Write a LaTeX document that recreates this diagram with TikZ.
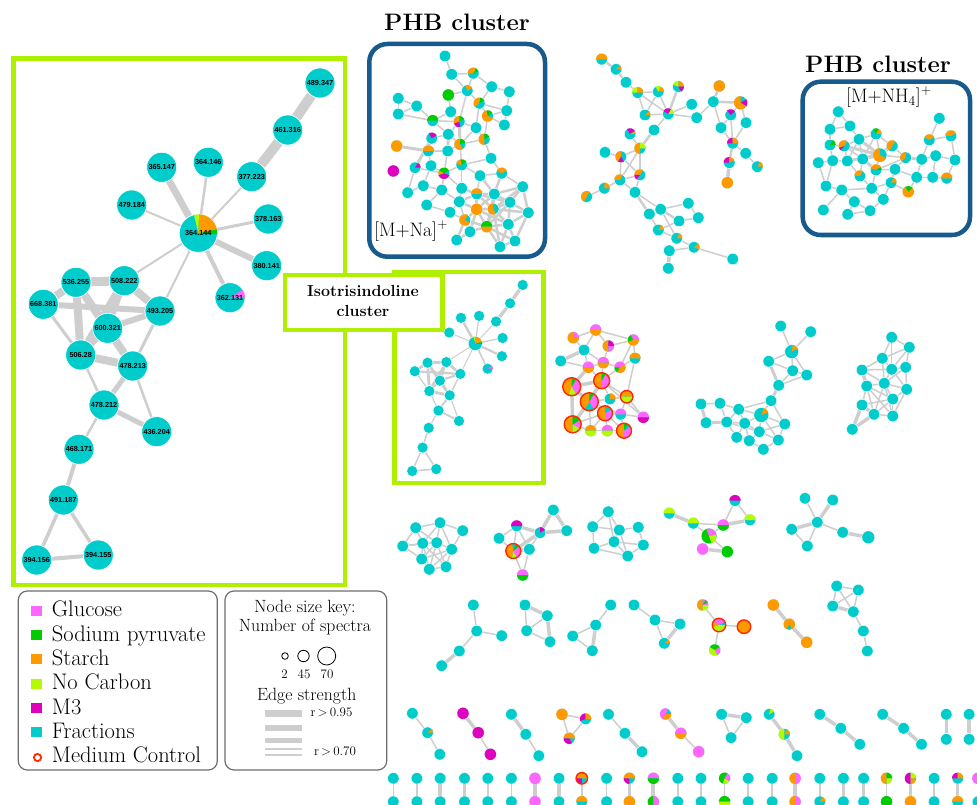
\documentclass[tikz,border=0pt]{standalone}
\usepackage{fontspec}
\newfontfamily\labfont{Liberation Sans}
\pgfdeclarelayer{paper}
\pgfdeclarelayer{bg}
\pgfsetlayers{paper,bg,main}
\definecolor{tl}{RGB}{0,204,204}
\definecolor{orng}{RGB}{255,153,0}
\definecolor{pnk}{RGB}{255,102,255}
\definecolor{grn}{RGB}{0,204,0}
\definecolor{lme}{RGB}{180,250,0}
\definecolor{mgt}{RGB}{224,0,192}
\definecolor{rr}{RGB}{255,40,0}
\definecolor{eg}{RGB}{206,206,206}
\definecolor{boxlime}{RGB}{175,240,0}
\definecolor{phbblue}{RGB}{25,90,140}
\definecolor{leggray}{RGB}{110,110,110}
\tikzset{
  sn/.style={circle,fill=tl,draw=white,line width=0.4pt,minimum size=11.5pt,inner sep=0pt},
  bn/.style={circle,fill=tl,draw=white,line width=0.6pt,minimum size=30pt,inner sep=0pt,font=\labfont\bfseries\fontsize{7.3}{8}\selectfont},
  bc/.style={bn,minimum size=38pt},
  tn/.style={circle,fill=tl,draw=white,line width=0.4pt,minimum size=11pt,inner sep=0pt},
  tc/.style={tn,minimum size=14pt},
  edge/.style={draw=eg,line width=1.5pt},
  labtxt/.style={inner sep=0pt,font=\labfont\bfseries\fontsize{7.3}{8}\selectfont},
  legtxt/.style={anchor=base west,inner sep=0pt,font=\fontsize{22.5}{24}\selectfont},
  keytxt/.style={anchor=base,inner sep=0pt,font=\fontsize{17.7}{19}\selectfont},
  smalltxt/.style={anchor=base,inner sep=0pt,font=\fontsize{13}{15}\selectfont},
  titletxt/.style={anchor=base,inner sep=0pt,font=\bfseries\fontsize{23.8}{26}\selectfont},
  ionbox/.style={anchor=base west,inner sep=0pt,font=\fontsize{19.5}{22}\selectfont},
  limebox/.style={draw=boxlime,line width=4.5pt},
  phbbox/.style={draw=phbblue,line width=4.5pt,rounded corners=18pt},
  legbox/.style={draw=leggray,line width=1.2pt,rounded corners=9pt},
  keybar/.style={draw=eg},
}
\newcommand\lab[1]{#1}
\def\ewf{1}\def\ewo{0}
\newcommand\pw[5][5.75pt]{\fill[#5] (#2.center) -- ++(#3:#1) arc[start angle=#3,end angle=#4,radius=#1] -- cycle;}
\newcommand\fc[3][5.75pt]{\fill[#3] (#2.center) circle[radius=#1];}
\newcommand\rg[2]{\draw[rr,line width=1.4pt] (#1.center) circle[radius=#2];}
\newcommand\EL[2]{\foreach \a/\b in {#2}{\draw[edge,line width=#1] (\a) -- (\b);}}
\newcommand\isonet[3]{%
  \foreach \n/\x/\y/\tx in {n489/320/83/489.347, n461/287.7/130/461.316, n377/251.7/176.7/377.223,
     n364b/208.3/162.3/364.146, n365/161.7/167.3/365.147, n479/131.7/205/479.184,
     n378/268.3/219/378.163, n380/266.7/265.7/380.141, n508/124.3/280.7/508.222,
     n536/76/282.3/536.255, n668/43.3/304.3/668.381, n493/160/311/493.205,
     n600/107.7/328.3/600.321, n506/80.7/355/506.28, n478b/132.7/366/478.213,
     n478a/104/405/478.212, n436/156.7/431.7/436.204, n468/79/449.3/468.171,
     n491/63.3/500/491.187, n394a/36.7/560/394.156, n394b/98.3/555/394.155}
    {\node[#2] (#1\n) at (\x,\y) {\lab{\tx}};}
  \node[#2] (#1n362) at (230,297.7) {};
  \node[#3] (#1c) at (198.3,233.3) {};
  \begin{pgfonlayer}{bg}
  \foreach \a/\b/\w in {n489/n461/10, n461/n377/10, n377/c/2, n364b/c/2.5, n365/c/7,
     n479/c/2, n378/c/3, n380/c/6, n362/c/4, n508/c/2, n493/c/2,
     n536/n508/9, n668/n536/8, n536/n506/8, n536/n478b/8, n536/n600/6, n508/n506/8,
     n508/n493/8, n508/n600/6, n668/n493/6, n668/n506/3, n600/n493/6, n600/n478b/6,
     n600/n506/5, n506/n478b/8, n493/n478b/3, n506/n478a/2.5, n478b/n478a/5,
     n478b/n436/2.5, n478a/n436/5, n478a/n468/2.5, n468/n491/4, n491/n394a/3.5,
     n491/n394b/3.5, n394a/n394b/4}
    {\draw[edge,line width={\ewf*\w+\ewo}] (#1\a) -- (#1\b);}
  \end{pgfonlayer}}
\begin{document}
\begin{tikzpicture}[x=1pt,y=-1pt]
\useasboundingbox (0,0) rectangle (977,805);
\begin{pgfonlayer}{paper}\fill[white] (0,0) rectangle (977,805);\end{pgfonlayer}

% ---------- frames ----------
\draw[limebox] (13.5,58.5) rectangle (345,585);
\draw[limebox] (394.3,272) rectangle (543.3,483);
\draw[limebox,fill=white] (285,275) rectangle (442.7,330);
\draw[phbbox] (369.3,44) rectangle (545,256.7);
\draw[phbbox] (802.7,81.7) rectangle (970,235);
\draw[legbox] (18.3,591) rectangle (217.3,770);
\draw[legbox] (225,591) rectangle (386.7,770);

% ---------- titles ----------
\node[titletxt] (t1) at (457,31) {PHB cluster};
\node[titletxt] (t2) at (878,73) {PHB cluster};
\node[ionbox] (ion1) at (374,236.5) {[M+Na]\textsuperscript{+}};
\node[ionbox] (ion2) at (846,102.5) {[M+NH\textsubscript{4}]\textsuperscript{+}};
\node[anchor=base,inner sep=0pt,font=\bfseries\fontsize{16}{20}\selectfont] (iso1) at (363,296.7) {Isotrisindoline};
\node[anchor=base,inner sep=0pt,font=\bfseries\fontsize{16}{20}\selectfont] (iso2) at (363,316.7) {cluster};

% ---------- legend ----------
\foreach \yy/\cc/\tx [count=\i] in {616.7/pnk/Glucose, 641/grn/Sodium pyruvate, 665.3/orng/Starch, 689.7/lme/No Carbon, 714/mgt/M3, 738.3/tl/Fractions}
  {\fill[\cc] (31.2,\yy-11) rectangle (42.2,\yy-1);
   \node[legtxt] (leg\i) at (51.7,\yy) {\tx};}
\draw[rr,line width=1.8pt] (37.5,757.5) circle[radius=3.6pt];
\node[legtxt] (leg7) at (51.7,762.6) {Medium Control};
\node[keytxt] (k1) at (305,612.3) {Node size key:};
\node[keytxt] (k2) at (305,631) {Number of spectra};
\draw[line width=0.8pt] (285,656) circle[radius=3.3pt];
\draw[line width=0.8pt] (303.5,656) circle[radius=5.7pt];
\draw[line width=0.8pt] (326.7,656) circle[radius=9pt];
\node[smalltxt] (s2) at (284.5,678.3) {2};
\node[smalltxt] (s45) at (304,678.3) {45};
\node[smalltxt] (s70) at (327,678.3) {70};
\node[keytxt] (k3) at (306.7,700) {Edge strength};
\draw[keybar,line width=7pt] (265,713.3) -- (302,713.3);
\draw[keybar,line width=6pt] (265,727.7) -- (302,727.7);
\draw[keybar,line width=5pt] (265,740) -- (302,740);
\draw[keybar,line width=2pt] (265,748.5) -- (302,748.5);
\draw[keybar,line width=1.2pt] (265,755) -- (302,755);
\node[smalltxt] (r95) at (331.5,716.7) {r\,>\,0.95};
\node[smalltxt] (r70) at (335,755) {r\,>\,0.70};

% ---------- isotrisindoline networks ----------
\isonet{B}{bn}{bc}
\pw[19pt]{Bc}{12}{88}{orng}\pw[19pt]{Bc}{-3}{12}{grn}\pw[19pt]{Bc}{88}{103}{lme}
\pw[15pt]{Bn362}{0}{32}{pnk}
\node[labtxt] (lc) at (Bc) {364.144};
\node[labtxt] (l362) at (Bn362) {362.131};
\begin{scope}[shift={(397.9,252.6)},scale=0.39]
  \renewcommand\lab[1]{}\def\ewf{0.3}\def\ewo{0.4}
  \isonet{S}{tn}{tc}
\end{scope}
\pw[7pt]{Sc}{12}{88}{orng}\pw[7pt]{Sc}{-3}{12}{grn}\pw[7pt]{Sc}{88}{103}{lme}
\pw[5.5pt]{Sn362}{0}{32}{pnk}

% ---------- small nodes ----------
\foreach \n/\x/\y in {
 P1/445/56, P2/451.7/74.3, P3/473.3/73.3, P4/491.7/86.7, P5/509.3/91.7, P6/467.3/90.7, P7/448.3/95,
 P8/398.3/98.3, P9/416.7/106, P10/398.3/114, P11/479.3/103.3, P12/506.7/110.7, P13/450.7/111.7,
 P14/487.7/116, P15/432.7/120.7, P16/459.3/121.7, P17/504.3/125, P18/476/127.7, P19/448.3/134.3,
 P20/431.7/138.3, P21/396.7/146, P22/460/144.3, P23/484.3/139.3, P24/428.3/151, P25/447.7/151,
 P26/491/158.3, P27/461.7/165, P28/431/165.7, P29/415/167.7, P30/393.3/171, P31/444/173.3,
 P32/480/175.7, P33/501.7/173.3, P34/423.3/185.7, P35/407.7/192.7, P36/441.7/190, P37/461.7/188.3,
 P38/522.7/186.7, P39/476.7/194, P40/494.3/194, P41/510/202.3, P42/459.3/201.7, P43/426.7/205,
 P44/476.7/209.3, P45/493.3/209, P46/528.3/212.7, P47/450/212.3, P48/465/220, P49/486.7/226.7,
 P50/508.3/224.3, P52/470/231.7, P53/456.7/240, P54/515/241, P55/500/246.7,
 a1/601.7/59.3, a2/616/69.3, a3/626/82.3, a4/637.7/92.7, a5/658.3/91.7, a6/678.3/86.7, a7/645/115,
 a8/668.3/114, a9/691.7/104.3, a10/696.7/117.7, a11/654/130, a12/630/134, a13/605/152.3,
 a14/640/148.3, a15/621/156.7, a16/640/175, a17/620/180, a18/604.3/188.3, a19/586.7/196.7,
 a20/635/192.3, a21/649.3/214, a22/660.7/209.3, a23/688.3/203.3, a24/698.3/217.7, a25/679/221,
 a26/658.3/230, a27/676.7/238.3, a28/694/247.3, a29/669.3/250.7, a30/668.3/268.3, a31/732.7/259,
 b1/719.3/86, b2/713.3/101.7, b4/730.7/115, b5/746/122.7, b6/721/127.7, b7/732.7/143.3,
 b8/745.7/153.3, b9/729.3/162.7, b10/757.3/166.7, b11/727.3/182.7,
 c1/838.3/111.7, c2/850/126, c3/830/129.3, c4/830/145, c5/844.3/146, c6/859/139.3, c7/876/134,
 c9/892.3/146, c10/905.7/157.7, c11/921.7/159.3, c12/929.3/140, c13/939.3/118.3, c14/951/136,
 c15/935.7/155.7, c16/955/160, c17/818.3/162.7, c18/832.7/160.7, c19/847.3/161, c20/862.7/159,
 c21/876/170, c22/860/176, c23/895/169.3, c24/916.7/177.3, c25/932.7/177.3, c26/946.7/178.3,
 c27/826/186, c28/841.7/190, c29/871.7/188.3, c30/891/182.7, c31/908.3/191.7, c32/854.3/201.7,
 c33/883.3/199.3, c34/823.3/210, c35/847.7/214.3, c36/870/210.7,
 d1/573.3/337.7, d2/595.7/330, d3/608.3/346, d4/633.3/340, d5/584/350, d6/560.7/361,
 d7/588.3/367.3, d8/603.3/362.7, d9/620/367.3, d10/635/358.3, d14/610/399, d17/620.7/414.3,
 d18/643.3/417.3, d20/590.7/430.7, d21/607.3/430.7,
 e1/780.7/326, e2/810.7/331.7, e4/768.7/361.3, e5/792.7/370.7, e6/806.7/375, e7/778.7/385.3,
 e8/771/400.7, e9/701/404, e10/720/403.3, e11/738.7/409.3, e13/706/422.7, e14/726.7/422,
 e15/744.7/423.3, e16/784.7/424, e17/759.3/431.7, e18/736.7/437.3, e19/749.3/440.7,
 e20/778.3/440, e21/763.3/449.3,
 f1/891.7/337.3, f2/909.3/347.3, f3/882.3/358.3, f4/862/370, f5/891.7/369.3, f6/905.7/367.3,
 f7/866.7/386, f8/884.3/383.3, f9/906.7/389.3, f10/862/405, f11/892.7/399, f12/874/414.3,
 f13/892.7/416, f14/852.3/429.3,
 g1/415.7/527.7, g2/440/522.7, g3/462.7/530.7, g4/402.7/546, g5/422.7/543.3, g6/436.7/542.7,
 g7/451.7/549.3, g8/421.7/559, g9/446/566.7, g10/429.3/569.3,
 h1/516.7/526, h2/499/538.3, h3/540/532.7, h4/553.3/510, h5/566.7/530.7, h7/529.3/549.3,
 h8/522.7/575,
 i1/608.3/511.7, i2/592.7/526.7, i3/619.3/530, i4/638.3/527.3, i5/614/541.7, i6/643.3/545,
 i7/594/548.3, i8/627.7/556,
 j1/669.3/513.3, j2/693.3/523.3, j3/735/500.7, j4/750/520, j5/723.3/525, j8/702.7/549,
 j9/727.3/551.7,
 k1/805/498.3, k2/832.7/500, k3/817.3/522.3, k4/791.7/529.3, k5/842.7/532.3, k7/807.3/546,
 l1/473.3/605, l2/476.7/631, l3/501.7/635.7, l4/459.3/651, l5/441.7/665.7,
 m1/525/605, m2/547.3/615.7, m3/526.7/630.7, m4/550/641.7,
 n1/610.7/605, n2/595.7/625, n3/572.7/636, n4/592.3/650.7,
 o1/634/605, o2/655/620, o3/680/624, o4/664.3/643.3,
 p1/702.7/605, p4/714.7/650,
 q1/773.3/605, q2/789.3/624.3, q3/806.7/642.3,
 r1/836.7/586, r2/858.3/590, r3/832.7/606, r4/853.3/611.7, r5/863.3/631, r6/867.3/651,
 sa1/412.4/713.3, sa2/427.6/732.7, sa3/439.8/754.3, sb1/463/713.3, sb2/478.2/732.7, sb3/490.4/754.3,
 sc1/511.4/714.3, sc2/525.8/734.3, sc3/538.8/755.7, sd1/562/714.3, sd2/585.6/719, sd3/569.3/738.3,
 se1/608.5/714.3, se2/624.9/733.3, se3/642/751.7, sf1/665.6/714, sf2/680.8/733.3, sf3/698.7/751.7,
 sg1/721.6/714.3, sg2/746.3/717.7, sg3/731.1/737.7, sh1/769.2/714.3, sh2/784.4/734.3, sh3/797/755.7,
 si1/819.8/714.3, si2/840.8/728.3, si3/859.8/744.3, sj1/882.7/714.3, sj2/903.6/728.3, sj3/921.5/744.3,
 sk1/946.3/714.3, sk2/946.3/739.3, sl1/969.1/714.3, sl2/969.1/739.3}
 {\node[sn] (\n) at (\x,\y) {};}
% larger nodes
\foreach \n/\x/\y/\s in {b3/740.7/102.7/13.5, c8/880/155/14, d11/571.7/386.7/18, d12/601.7/380.7/16,
 d13/589.3/401.7/18, d15/626.7/396.7/12.5, d16/605/413.3/15, d19/572.7/424.3/17, d22/624/430.7/15,
 e3/791.7/351.7/14, e12/761.3/415/15, h6/513.3/551/15, j7/709/536/15, p2/719/625/13.5,
 p3/744/626.7/13.5, k6/868.3/537.3/13}
 {\node[sn,minimum size=\s pt] (\n) at (\x,\y) {};}
% bottom row
\foreach \x/\w [count=\i] in {393.3/1.5, 416.9/2.5, 440.2/3.5, 464.5/2.5, 487.8/2.5, 511.4/1.5, 535/3.5,
 559/3.5, 581.8/1.5, 606.6/1, 629.4/3.5, 653.4/4, 677.8/2.5, 701/2.5, 724.6/1.5, 748.2/1.5, 772.2/1.5,
 795.1/3.5, 819.8/1.5, 843.4/2.5, 863.6/3.5, 886.5/1.5, 910.5/3.5, 934.1/1.5, 957.7/3.5, 977.9/2}
 {\node[sn] (T\i) at (\x,778.3) {};
  \node[sn] (U\i) at (\x,801.7) {};
  \begin{pgfonlayer}{bg}\draw[edge,line width=\w] (T\i) -- (U\i);\end{pgfonlayer}}

% ---------- edges ----------
\begin{pgfonlayer}{bg}
\EL{1.5}{P1/P2, P2/P3, P3/P4, P2/P6, P3/P6, P4/P11, P6/P11, P5/P12, P11/P12, P11/P14, P12/P14,
 P12/P17, P14/P17, P13/P16, P6/P16, P7/P13, P8/P9, P8/P10, P9/P10, P9/P15, P10/P15, P13/P15,
 P15/P16, P15/P19, P16/P19, P16/P18, P11/P18, P18/P23, P14/P23, P16/P22, P19/P22, P19/P20,
 P20/P24, P24/P25, P22/P25, P22/P23, P22/P27, P18/P22, P23/P26, P26/P27, P27/P31, P25/P31,
 P28/P31, P29/P31, P29/P35, P24/P28, P28/P34, P34/P35, P34/P36, P31/P36, P27/P32, P32/P33,
 P27/P37, P31/P37, P37/P42, P36/P43, P43/P47, P42/P47, P26/P33, P33/P38, P32/P39, P36/P42,
 P47/P48, P42/P48, P4/P5, P7/P6}
\EL{3}{P21/P24, P19/P25, P16/P22, P20/P29}
\EL{2.5}{P32/P40, P33/P40, P38/P40, P38/P41, P38/P46, P39/P40, P39/P44, P39/P45, P40/P41,
 P40/P45, P40/P44, P41/P46, P41/P45, P41/P50, P44/P45, P44/P49, P44/P48, P45/P49, P45/P50,
 P45/P46, P46/P50, P49/P50, P49/P52, P49/P55, P50/P54, P50/P55, P52/P53, P52/P48, P54/P55,
 P48/P49, P42/P44, P42/P39, P37/P39, P39/P41, P44/P50, P40/P49, P41/P49, P46/P54, P44/P52,
 P48/P53, P49/P54, P45/P55, P38/P45}
\EL{1.5}{a3/a4, a4/a5, a4/a7, a5/a7, a5/a8, a7/a8, a8/a9, a8/a10, a8/a11, a10/b2, b2/b6, b3/b4,
 b3/b5, b4/b6, b5/b7, b6/b7, b7/b8, b8/b10, b4/b7, a12/a14, a13/a15, a14/a15, a14/a16, a15/a17,
 a16/a17, a15/a16, a14/a17, a17/a18, a18/a19, a16/a20, a17/a20, a20/a22, a21/a22, a22/a23,
 a23/a24, a24/a25, a25/a26, a21/a26, a26/a27, a22/a27, a27/a28, a28/a29, a28/a31, a4/a8}
\EL{2.5}{a1/a2, a2/a3, a6/a8, a11/a14, b2/b1, b2/b3, b7/b9, a20/a21, a22/a25}
\EL{3.5}{b9/b11, a29/a30}
\EL{1.5}{c1/c2, c1/c3, c2/c3, c2/c6, c3/c4, c4/c5, c5/c6, c6/c7, c7/c8, c7/c9, c5/c19, c8/c10,
 c9/c10, c11/c12, c12/c13, c12/c14, c11/c15, c15/c16, c14/c16, c15/c25, c16/c26, c25/c26, c24/c25,
 c11/c24, c10/c23, c8/c21, c19/c20, c18/c19, c17/c18, c17/c27, c18/c27, c19/c22, c20/c22,
 c21/c23, c22/c29, c21/c29, c23/c30, c30/c31, c23/c24, c24/c31, c29/c30, c29/c33, c30/c33,
 c27/c28, c28/c32, c28/c29, c32/c36, c32/c35, c34/c28, c35/c36, c36/c33, c10/c21, c9/c20,
 c5/c20, c7/c20, c6/c19, c6/c20, c4/c18}
\EL{3}{c6/c8, c5/c8, c8/c20, c8/c19, c8/c9, c20/c21, c10/c11}
\EL{1.5}{d1/d2, d2/d3, d1/d5, d2/d5, d3/d4, d2/d4, d6/d7, d5/d7, d5/d8, d3/d8, d7/d8, d8/d9,
 d4/d9, d4/d10, d9/d10, d7/d12, d8/d12, d9/d12, d12/d14, d12/d15, d14/d15, d15/d17, d15/d18,
 d10/d15, d13/d16, d16/d19, d16/d20, d16/d21, d16/d22, d19/d20, d20/d21, d21/d22, d17/d22,
 d17/d18, d13/d17, d14/d16, d16/d17, d13/d20, d11/d16, d12/d18, d13/d14}
\EL{3.5}{d5/d6, d7/d11, d11/d12, d11/d13, d12/d13, d11/d19, d13/d19}
\EL{1.5}{e1/e3, e2/e3, e3/e4, e3/e5, e3/e6, e4/e5, e4/e7, e5/e6, e5/e7, e6/e7, e8/e12, e8/e11,
 e9/e10, e9/e13, e10/e11, e10/e14, e11/e12, e11/e14, e11/e15, e12/e15, e12/e16, e12/e17, e14/e15,
 e14/e18, e15/e18, e15/e17, e16/e17, e16/e20, e17/e19, e17/e20, e18/e19, e19/e21, e20/e21,
 e12/e20, e8/e16, e15/e19, e14/e17}
\EL{3}{e7/e8, e9/e13, e13/e14, e4/e7}
\EL{1.5}{f1/f2, f1/f3, f2/f3, f2/f5, f2/f6, f1/f5, f3/f4, f3/f5, f3/f8, f4/f7, f4/f8, f4/f5,
 f5/f6, f5/f8, f6/f9, f5/f9, f6/f8, f7/f8, f7/f11, f8/f11, f8/f9, f9/f11, f9/f13, f10/f11,
 f11/f12, f11/f13, f12/f13, f7/f12, f8/f12, f8/f13, f7/f13, f7/f10}
\EL{3.5}{f10/f14, f12/f14, f4/f7, f10/f12}
\EL{1.5}{g1/g2, g2/g3, g1/g4, g1/g5, g1/g6, g2/g5, g2/g6, g2/g7, g3/g7, g4/g5, g4/g8, g5/g6,
 g5/g8, g6/g7, g6/g8, g6/g9, g6/g10, g7/g9, g7/g10, g8/g10, g9/g10, g5/g9, g5/g10, g7/g8, g4/g6}
\EL{1.5}{h1/h2, h1/h6, h1/h7, h2/h6, h3/h7, h6/h8, h7/h8, i1/i2, i1/i3, i2/i3, i2/i7, i3/i4,
 i3/i5, i4/i6, i5/i6, i5/i7, i5/i8, i6/i8, i7/i8, i3/i8, i1/i5}
\EL{3.5}{h1/h3, h3/h4, h4/h5, h3/h5, h6/h7, h6/h3}
\EL{1.5}{j2/j5, j3/j5, j5/j7, j7/j8, j7/j9, j3/j4, j2/j7, k1/k3, k3/k5, k4/k7, k3/k7}
\EL{3.5}{j1/j2, j4/j5, j8/j9, k2/k3, k3/k4, k5/k6}
\EL{1.5}{l1/l2, l2/l3, l2/l4, m1/m3, m2/m3, m3/m4, n1/n2, n2/n3, n3/n4, o1/o2, o2/o3, o2/o4,
 p1/p2, p2/p3, p2/p4, r1/r2, r1/r3, r1/r4, r2/r3, r2/r4, r4/r5, r5/r6}
\EL{3.5}{l4/l5, m1/m2, m2/m4, n2/n4, o3/o4, q1/q2, q2/q3, r3/r4}
\EL{1.5}{sa1/sa2, sa2/sa3, sb2/sb3, sc2/sc3, sd1/sd2, sd1/sd3, sd2/sd3, se1/se2, se2/se3, sf2/sf3,
 sg1/sg3, sg2/sg3}
\EL{3.5}{sb1/sb2, sc1/sc2, sf1/sf2, sg1/sg2, sh1/sh2, sh2/sh3, si1/si2, si2/si3, sj1/sj2, sj2/sj3,
 sk1/sk2, sl1/sl2, se2/se3}
\end{pgfonlayer}

% ---------- pie colours ----------
\pw{P3}{60}{180}{orng}\pw{P3}{20}{60}{grn}
\pw{P6}{30}{110}{orng}
\fc{P7}{grn}
\pw{P11}{80}{220}{orng}\pw{P11}{30}{80}{grn}
\pw{P14}{100}{340}{orng}\pw{P14}{40}{100}{grn}
\pw{P15}{0}{180}{grn}
\pw{P16}{90}{200}{orng}\pw{P16}{200}{280}{mgt}\pw{P16}{30}{90}{grn}
\pw{P20}{30}{120}{mgt}
\fc{P21}{orng}
\pw{P22}{90}{300}{orng}\pw{P22}{20}{90}{grn}
\pw{P23}{90}{270}{orng}\pw{P23}{30}{90}{grn}
\pw{P24}{0}{180}{orng}
\pw{P27}{100}{170}{orng}\pw{P27}{40}{100}{grn}
\pw{P29}{0}{60}{mgt}
\fc{P30}{mgt}
\pw{P31}{30}{150}{grn}\pw{P31}{150}{200}{orng}\pw{P31}{200}{340}{mgt}
\pw{P33}{30}{150}{orng}
\pw{P39}{0}{180}{orng}
\fc{P44}{orng}
\pw{P45}{90}{300}{orng}
\pw{P48}{60}{330}{orng}
\pw{P49}{0}{180}{grn}\pw{P49}{180}{360}{orng}
\pw{a1}{0}{180}{orng}
\pw{a2}{0}{40}{orng}
\pw{a4}{90}{180}{lme}\pw{a4}{0}{90}{orng}
\pw{a5}{60}{120}{lme}\pw{a5}{0}{60}{orng}
\pw{a6}{0}{90}{orng}\pw{a6}{90}{160}{lme}\pw{a6}{300}{360}{mgt}
\pw{a7}{0}{40}{orng}
\pw{a8}{60}{150}{mgt}\pw{a8}{0}{60}{lme}
\pw{a12}{30}{120}{mgt}\pw{a12}{0}{30}{orng}
\pw{a14}{90}{270}{orng}\pw{a14}{0}{90}{lme}
\pw{a15}{90}{240}{orng}\pw{a15}{240}{300}{mgt}
\pw{a16}{60}{180}{orng}\pw{a16}{180}{230}{mgt}
\pw{a17}{60}{180}{orng}
\pw{a18}{0}{90}{orng}
\pw{a19}{60}{240}{orng}
\pw{a26}{0}{60}{orng}
\pw{a27}{0}{60}{orng}
\pw{a28}{-20}{40}{orng}
\fc{b1}{orng}
\pw[6.75pt]{b3}{90}{330}{orng}\pw[6.75pt]{b3}{-30}{30}{mgt}
\pw{b4}{40}{130}{mgt}
\pw{b7}{90}{180}{mgt}\pw{b7}{0}{90}{orng}
\pw{b9}{90}{180}{mgt}\pw{b9}{30}{90}{orng}
\pw{b10}{0}{60}{orng}
\fc{b11}{orng}
\pw{c4}{0}{60}{grn}
\pw{c5}{60}{200}{orng}\pw{c5}{200}{230}{mgt}
\pw{c7}{60}{120}{grn}\pw{c7}{0}{60}{orng}
\pw[7pt]{c8}{90}{330}{orng}
\pw{c9}{60}{240}{orng}
\pw{c10}{90}{220}{orng}
\pw{c12}{30}{150}{orng}
\pw{c14}{30}{180}{orng}
\pw{c21}{30}{160}{orng}\pw{c21}{0}{30}{grn}
\pw{c22}{60}{180}{orng}
\pw{c26}{0}{180}{orng}
\pw{c30}{0}{60}{orng}
\pw{c31}{120}{400}{orng}\pw{c31}{40}{120}{grn}
\pw{d1}{90}{360}{orng}\pw{d1}{0}{90}{pnk}
\pw{d2}{0}{180}{pnk}\pw{d2}{180}{360}{orng}
\pw{d3}{90}{270}{orng}\pw{d3}{270}{360}{pnk}\pw{d3}{0}{90}{mgt}
\pw{d4}{0}{120}{pnk}\pw{d4}{120}{200}{grn}\pw{d4}{200}{360}{orng}
\pw{d7}{0}{180}{pnk}\pw{d7}{180}{360}{orng}
\pw{d8}{0}{180}{pnk}\pw{d8}{180}{360}{orng}
\pw{d9}{30}{180}{pnk}\pw{d9}{180}{240}{grn}\pw{d9}{240}{390}{orng}
\pw{d10}{0}{180}{orng}
\pw[9pt]{d11}{-60}{60}{pnk}\pw[9pt]{d11}{60}{90}{grn}\pw[9pt]{d11}{90}{250}{orng}\pw[9pt]{d11}{250}{300}{lme}
\pw[8pt]{d12}{90}{270}{orng}\pw[8pt]{d12}{270}{420}{pnk}\pw[8pt]{d12}{60}{90}{grn}
\pw[9pt]{d13}{90}{240}{orng}\pw[9pt]{d13}{300}{420}{pnk}\pw[9pt]{d13}{60}{90}{grn}
\pw{d14}{0}{90}{orng}
\pw[6.25pt]{d15}{0}{180}{orng}\pw[6.25pt]{d15}{180}{360}{lme}
\pw[7.5pt]{d16}{90}{270}{orng}\pw[7.5pt]{d16}{270}{390}{pnk}
\pw{d17}{0}{180}{pnk}
\pw{d18}{0}{180}{pnk}\pw{d18}{180}{360}{mgt}
\pw[8.5pt]{d19}{90}{270}{orng}\pw[8.5pt]{d19}{270}{330}{lme}\pw[8.5pt]{d19}{330}{390}{pnk}\pw[8.5pt]{d19}{30}{90}{grn}
\pw{d20}{0}{180}{orng}\pw{d20}{180}{360}{lme}
\pw{d21}{0}{180}{pnk}\pw{d21}{180}{360}{lme}
\pw[7.5pt]{d22}{90}{270}{orng}\pw[7.5pt]{d22}{270}{390}{pnk}\pw[7.5pt]{d22}{60}{90}{grn}
\pw[7pt]{e3}{30}{80}{orng}
\pw[7.5pt]{e12}{20}{70}{orng}
\pw{h1}{0}{180}{mgt}
\pw{h3}{30}{90}{mgt}
\pw[7.5pt]{h6}{100}{260}{orng}\pw[7.5pt]{h6}{260}{300}{lme}\pw[7.5pt]{h6}{300}{400}{pnk}\pw[7.5pt]{h6}{40}{70}{grn}
\pw{h8}{0}{180}{pnk}\pw{h8}{180}{360}{grn}
\pw{j1}{0}{180}{lme}
\pw{j2}{0}{180}{lme}
\pw{j3}{0}{180}{mgt}
\pw{j4}{0}{180}{lme}
\pw{j5}{0}{180}{pnk}\pw{j5}{180}{360}{grn}
\fc[7.5pt]{j7}{grn}\pw[7.5pt]{j7}{10}{110}{pnk}\pw[7.5pt]{j7}{290}{370}{lme}
\fc{j8}{pnk}
\fc{j9}{grn}
\pw{o4}{0}{40}{orng}
\pw{p1}{90}{270}{orng}\pw{p1}{0}{90}{pnk}\pw{p1}{30}{60}{grn}\pw{p1}{270}{360}{lme}
\pw[6.75pt]{p2}{30}{150}{pnk}\pw[6.75pt]{p2}{150}{200}{orng}\pw[6.75pt]{p2}{200}{360}{lme}
\fc[6.75pt]{p3}{orng}
\pw{p4}{30}{150}{grn}\pw{p4}{150}{300}{lme}\pw{p4}{300}{390}{pnk}
\fc{q1}{orng}\pw{q2}{-60}{240}{orng}\fc{q3}{orng}
\pw{sa2}{0}{40}{orng}
\fc{sb1}{mgt}\fc{sb2}{mgt}\fc{sb3}{mgt}
\fc{sd1}{orng}
\pw{sd2}{90}{200}{mgt}\pw{sd2}{0}{90}{orng}
\pw{sd3}{0}{180}{orng}\pw{sd3}{180}{300}{mgt}
\pw{sf1}{60}{240}{pnk}\pw{sf1}{240}{360}{orng}
\pw{sf2}{0}{180}{pnk}\pw{sf2}{180}{360}{orng}
\fc{sf3}{pnk}
\pw{sh1}{30}{80}{lme}
\pw{sh2}{90}{270}{lme}\pw{sh2}{0}{60}{orng}
\fc{T7}{pnk}\fc{U7}{pnk}
\pw{T9}{0}{180}{orng}\pw{T9}{180}{270}{mgt}
\pw{U9}{0}{180}{orng}
\pw{T11}{0}{180}{orng}\pw{T11}{180}{270}{mgt}
\fc{U11}{orng}
\pw{T12}{0}{180}{pnk}\pw{T12}{180}{360}{grn}
\pw{U12}{90}{270}{grn}\pw{U12}{270}{450}{pnk}
\pw{T15}{60}{250}{grn}\pw{T15}{250}{330}{lme}\pw{T15}{330}{420}{pnk}
\pw{U15}{0}{180}{grn}\pw{U15}{180}{360}{lme}
\pw{T18}{90}{270}{orng}\pw{T18}{270}{450}{pnk}
\pw{U18}{90}{270}{orng}\pw{U18}{270}{450}{pnk}
\pw{U19}{0}{60}{orng}
\pw{T22}{90}{270}{orng}\pw{T22}{0}{90}{grn}\pw{T22}{270}{360}{lme}
\fc{U22}{grn}
\pw{T23}{90}{270}{mgt}\pw{T23}{0}{90}{lme}\pw{T23}{270}{360}{orng}
\fc{U23}{orng}
\pw{T25}{90}{180}{mgt}\pw{T25}{0}{90}{orng}
\pw{U25}{0}{180}{orng}
\fc{T26}{pnk}
% medium control rings
\rg{d11}{9pt}\rg{d12}{8pt}\rg{d13}{9pt}\rg{d15}{6.25pt}\rg{d16}{7.5pt}
\rg{d19}{8.5pt}\rg{d22}{7.5pt}\rg{h6}{7.5pt}\rg{p2}{6.75pt}\rg{p3}{6.75pt}\rg{T9}{5.75pt}
\end{tikzpicture}
\end{document}
